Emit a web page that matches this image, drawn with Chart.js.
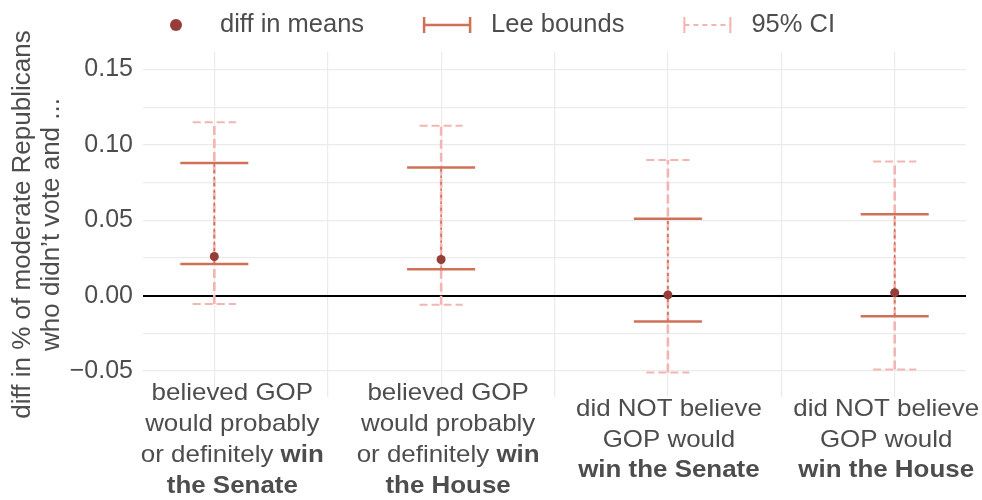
<!DOCTYPE html>
<html>
<head>
<meta charset="utf-8">
<script src="https://cdn.jsdelivr.net/npm/chart.js@4.4.1/dist/chart.umd.min.js"></script>
<style>
  html, body { margin: 0; padding: 0; background: #fff; }
</style>
</head>
<body>
<canvas id="grafica" width="982" height="500"></canvas>
<script>
// categorías del eje x (una entrada por línea, **texto** va en negrita)
const categorias = [
  ['believed GOP', 'would probably', 'or definitely **win**', '**the Senate**'],
  ['believed GOP', 'would probably', 'or definitely **win**', '**the House**'],
  ['did NOT believe', 'GOP would', '**win the Senate**'],
  ['did NOT believe', 'GOP would', '**win the House**']
];
const difMedias = [0.026, 0.024, 0.0005, 0.002];
const leeInf = [0.021, 0.0175, -0.0172, -0.0137];
const leeSup = [0.088, 0.085, 0.051, 0.054];
const icInf = [-0.0055, -0.006, -0.051, -0.049];
const icSup = [0.115, 0.1127, 0.090, 0.089];
const yTicks = [-0.05, -0.025, 0, 0.025, 0.05, 0.075, 0.10, 0.125, 0.15];
const yEtiquetas = ['\u22120.05', '', '0.00', '', '0.05', '', '0.10', '', '0.15'];
const xTicks = [0, 0.5, 1, 1.5, 2, 2.5, 3];
const leyenda = ['diff in means', 'Lee bounds', '95% CI'];
const tituloY = ['diff in % of moderate Republicans', 'who didn\u2019t vote and ...'];

const fuente = '"Liberation Sans", Arial, Helvetica, sans-serif';
const colorPunto = '#953d38';
const colorLee = '#d07157';
const colorIC = '#f2b5b2';
const colorTexto = '#4d4d4d';
const colorGrid = '#ebebeb';

Chart.defaults.font.family = fuente;

// segmentos verticales de cada barra de error (null corta la línea)
function verticales(inf, sup) {
  const d = [];
  inf.forEach((v, i) => { d.push({x: i, y: v}, {x: i, y: sup[i]}, {x: i, y: null}); });
  return d;
}
// topes horizontales de las barras de error
function topes(inf, sup, ancho) {
  const d = [];
  inf.forEach((v, i) => {
    d.push({x: i - ancho, y: sup[i]}, {x: i + ancho, y: sup[i]}, {x: i, y: null});
    d.push({x: i - ancho, y: v}, {x: i + ancho, y: v}, {x: i, y: null});
  });
  return d;
}

// etiquetas del eje x con partes en negrita
const etiquetasX = {
  id: 'etiquetasX',
  afterDraw(chart) {
    const {ctx, scales: {x}, chartArea} = chart;
    const tam = 24, interlinea = 30.8, centro = chartArea.bottom + 43;
    const corrimiento = [18, 7, 1, -8.5]; // el original no centra las etiquetas bajo cada marca
    ctx.save();
    ctx.fillStyle = colorTexto;
    ctx.textBaseline = 'middle';
    ctx.textAlign = 'left';
    categorias.forEach((lineas, i) => {
      const cx = x.getPixelForValue(i) + corrimiento[i];
      lineas.forEach((linea, k) => {
        const y = centro + (k - (lineas.length - 1) / 2) * interlinea;
        const trozos = linea.split('**').map((t, j) => ({t, negrita: j % 2 === 1})).filter(p => p.t);
        const medir = p => {
          ctx.font = (p.negrita ? 'bold ' : '') + tam + 'px ' + fuente;
          return ctx.measureText(p.t).width;
        };
        const total = trozos.reduce((s, p) => s + medir(p), 0);
        ctx.save();
        ctx.translate(cx, y);
        ctx.scale(1.08, 1);
        let px = -total / 2;
        trozos.forEach(p => {
          const w = medir(p);
          ctx.fillText(p.t, px, 0);
          px += w;
        });
        ctx.restore();
      });
    });
    ctx.restore();
  }
};

function dibujarIcono(ctx, i, cx, y) {
  ctx.save();
  if (i === 0) {
    ctx.fillStyle = colorPunto;
    ctx.beginPath();
    ctx.arc(cx, y, 6, 0, Math.PI * 2);
    ctx.fill();
  } else {
    ctx.strokeStyle = i === 1 ? colorLee : colorIC;
    ctx.lineWidth = i === 1 ? 2.5 : 2;
    ctx.beginPath();
    ctx.moveTo(cx - 23, y - 8); ctx.lineTo(cx - 23, y + 8);
    ctx.moveTo(cx + 23, y - 8); ctx.lineTo(cx + 23, y + 8);
    ctx.stroke();
    if (i === 2) ctx.setLineDash([5, 4]);
    ctx.beginPath();
    ctx.moveTo(cx - 23, y); ctx.lineTo(cx + 23, y);
    ctx.stroke();
  }
  ctx.restore();
}

// leyenda superior
const leyendaArriba = {
  id: 'leyendaArriba',
  afterDraw(chart) {
    const ctx = chart.ctx;
    const y = 25, sep = 44, hueco = 83, letra = '25.5px ' + fuente;
    ctx.save();
    ctx.font = letra;
    const anchos = leyenda.map(t => ctx.measureText(t).width);
    const total = anchos.reduce((s, w) => s + w, 0) + sep * 3 + hueco * 2;
    let cx = 505.5 - total / 2;
    leyenda.forEach((t, i) => {
      dibujarIcono(ctx, i, cx, y);
      ctx.fillStyle = colorTexto;
      ctx.textAlign = 'left';
      ctx.textBaseline = 'middle';
      ctx.font = letra;
      ctx.fillText(t, cx + sep, y);
      cx += sep + anchos[i] + hueco;
    });
    ctx.restore();
  }
};

const esCero = c => c.tick && Math.abs(c.tick.value) < 1e-9;

new Chart(document.getElementById('grafica'), {
  type: 'line',
  data: {
    datasets: [
      {
        label: leyenda[0],
        data: difMedias.map((v, i) => ({x: i, y: v})),
        showLine: false,
        pointRadius: 4.5,
        pointBackgroundColor: colorPunto,
        pointBorderWidth: 0,
        order: 0
      },
      {
        label: leyenda[1],
        data: topes(leeInf, leeSup, 0.15),
        borderColor: colorLee,
        borderWidth: 2.5,
        pointRadius: 0,
        spanGaps: false,
        order: 1
      },
      {
        label: leyenda[1],
        data: verticales(leeInf, leeSup),
        borderColor: colorLee,
        borderWidth: 1.6,
        borderDash: [3, 3.5],
        pointRadius: 0,
        spanGaps: false,
        order: 2
      },
      {
        label: leyenda[2],
        data: topes(icInf, icSup, 0.095),
        borderColor: colorIC,
        borderWidth: 2,
        borderDash: [8, 4],
        pointRadius: 0,
        spanGaps: false,
        order: 3
      },
      {
        label: leyenda[2],
        data: verticales(icInf, icSup),
        borderColor: colorIC,
        borderWidth: 2.6,
        borderDash: [9, 4],
        pointRadius: 0,
        spanGaps: false,
        order: 4
      }
    ]
  },
  options: {
    responsive: false,
    animation: false,
    devicePixelRatio: 1,
    layout: { padding: { top: 52, right: 16, left: 0, bottom: 0 } },
    plugins: {
      legend: { display: false },
      tooltip: { enabled: false }
    },
    scales: {
      x: {
        type: 'linear',
        min: -0.3144,
        max: 3.3144,
        afterBuildTicks: s => { s.ticks = xTicks.map(v => ({value: v})); },
        afterFit: s => { s.height = 103; },
        ticks: { display: false },
        grid: { color: colorGrid, lineWidth: 1.2, drawTicks: false },
        border: { display: false }
      },
      y: {
        type: 'linear',
        min: -0.0672,
        max: 0.1616,
        afterBuildTicks: s => { s.ticks = yTicks.map(v => ({value: v})); },
        afterFit: s => { s.width = 143; },
        ticks: {
          padding: 10,
          color: colorTexto,
          font: { size: 25 },
          autoSkip: false,
          callback: (v, i) => yEtiquetas[i]
        },
        grid: {
          color: c => esCero(c) ? '#000000' : colorGrid,
          lineWidth: c => esCero(c) ? 2 : 1.2,
          drawTicks: false
        },
        border: { display: false },
        title: {
          display: true,
          text: tituloY,
          color: colorTexto,
          font: { size: 26, lineHeight: 1.115 },
          padding: { top: 8.5, bottom: 0 }
        }
      }
    }
  },
  plugins: [etiquetasX, leyendaArriba]
});
</script>
</body>
</html>
